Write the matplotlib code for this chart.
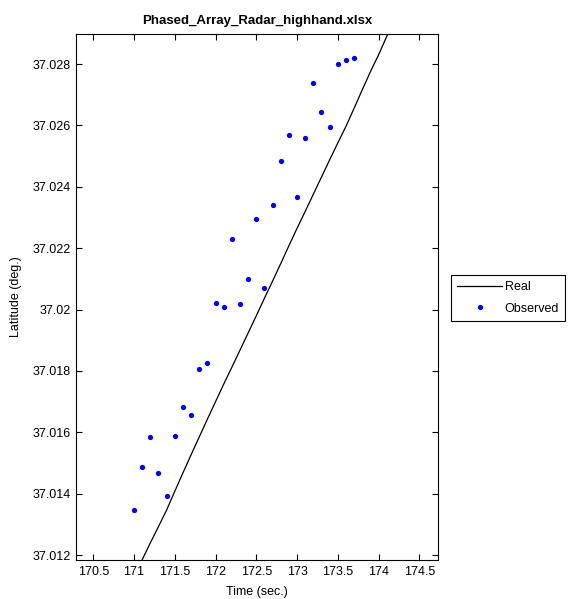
import matplotlib
matplotlib.use("Agg")
import matplotlib.pyplot as plt
from matplotlib.ticker import FormatStrFormatter, MultipleLocator

plt.rcParams['font.family'] = ['Liberation Sans', 'DejaVu Sans']
plt.rcParams['font.size'] = 9

# radar track: reference trajectory and measured positions
real_time = [171.0, 171.1, 171.2, 171.3, 171.4, 171.5, 171.6, 171.7, 171.8, 171.9,
             172.0, 172.1, 172.2, 172.3, 172.4, 172.5, 172.6, 172.7, 172.8, 172.9,
             173.0, 173.1, 173.2, 173.3, 173.4, 173.5, 173.6, 173.7, 173.8, 173.9,
             174.0, 174.1, 174.2]
real_lat = [37.01130, 37.01185, 37.01240, 37.01293, 37.01347, 37.01408, 37.01468,
            37.01527, 37.01585, 37.01643, 37.01700, 37.01757, 37.01812, 37.01868,
            37.01924, 37.01980, 37.02037, 37.02093, 37.02150, 37.02208, 37.02265,
            37.02320, 37.02376, 37.02432, 37.02488, 37.02543, 37.02597, 37.02656,
            37.02716, 37.02775, 37.02830, 37.02890, 37.02950]

obs_time = [171.0, 171.1, 171.2, 171.3, 171.4, 171.5, 171.6, 171.7, 171.8, 171.9,
            172.0, 172.1, 172.2, 172.3, 172.4, 172.5, 172.6, 172.7, 172.8, 172.9,
            173.0, 173.1, 173.2, 173.3, 173.4, 173.5, 173.6, 173.7]
obs_lat = [37.01347, 37.01487, 37.01585, 37.01469, 37.01392, 37.01589, 37.01683,
           37.01656, 37.01806, 37.01825, 37.02023, 37.02009, 37.02230, 37.02017,
           37.02100, 37.02294, 37.02072, 37.02340, 37.02483, 37.02568, 37.02368,
           37.02560, 37.02739, 37.02645, 37.02595, 37.02799, 37.02812, 37.02821]

fig = plt.figure(figsize=(5.72, 5.99), dpi=100)
ax = fig.add_axes([0.1329, 0.0651, 0.6329, 0.8781])

ln_real, = ax.plot(real_time, real_lat, color='black', linewidth=0.9)
ln_obs, = ax.plot(obs_time, obs_lat, linestyle='none', marker='o', markersize=3.8,
                  color='blue', markeredgewidth=0)

ax.set_xlim(170.288, 174.73)
ax.set_ylim(37.01184, 37.02898)
ax.xaxis.set_major_locator(MultipleLocator(0.5))
ax.yaxis.set_major_locator(MultipleLocator(0.002))
ax.xaxis.set_major_formatter(FormatStrFormatter('%g'))
ax.yaxis.set_major_formatter(FormatStrFormatter('%g'))
ax.tick_params(direction='in', length=4, width=0.8, top=True, right=True, pad=4)
for s in ax.spines.values():
    s.set_linewidth(0.8)

ax.set_title('Phased_Array_Radar_highhand.xlsx', fontweight='bold', fontsize=9.5, pad=7)
ax.set_xlabel('Time (sec.)', labelpad=6)
ax.set_ylabel('Latitude (deg.)', labelpad=7)

leg = fig.legend([ln_real, ln_obs], ['Real', 'Observed'], loc='upper left',
                 bbox_to_anchor=(451 / 572, 1 - 275 / 599), borderaxespad=0,
                 fancybox=False, edgecolor='black', framealpha=1,
                 handlelength=3.6, handletextpad=0.2, borderpad=0.5, labelspacing=0.75)
leg.get_frame().set_linewidth(0.8)

fig.savefig('out.png', dpi=100)
